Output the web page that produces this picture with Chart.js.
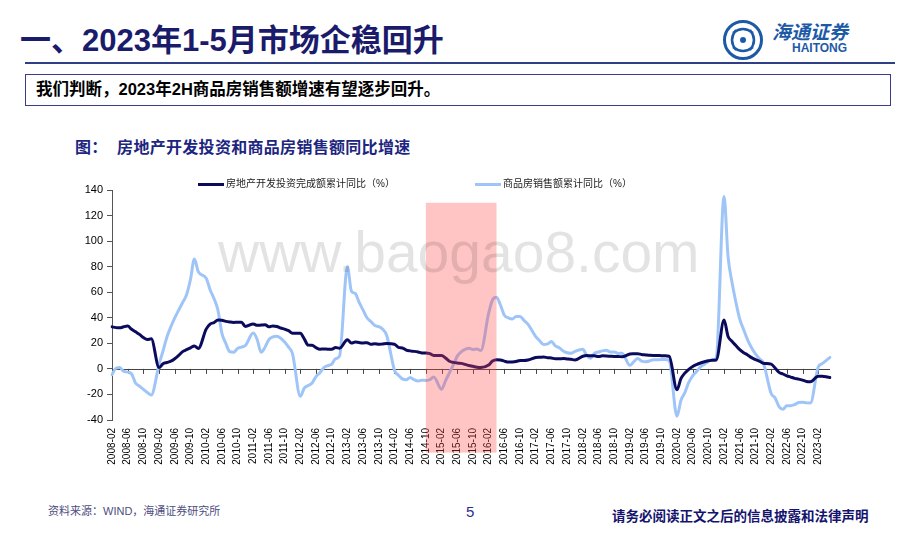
<!DOCTYPE html>
<html>
<head>
<meta charset="utf-8">
<script src="https://cdn.jsdelivr.net/npm/chart.js@4.4.0/dist/chart.umd.min.js"></script>
<style>
  body { margin: 0; width: 920px; height: 542px; background: #fff; position: relative; overflow: hidden;
         font-family: "Liberation Sans", Arial, "Noto Sans CJK SC", sans-serif; }
  .abs { position: absolute; white-space: nowrap; }
  #title { left: 20px; top: 22px; font-size: 31px; line-height: 38px; font-weight: 700; color: #1b1b6b; }
  #rule { left: 25px; top: 62px; width: 870px; height: 2px; background: #2e3f88; }
  #box { left: 25px; top: 74px; width: 864px; height: 30px; border: 1px solid #3b3b8a; }
  #boxText { left: 36px; top: 79px; font-size: 16.5px; line-height: 21px; font-weight: 700; color: #000; }
  #chartTitle { left: 75px; top: 138px; font-size: 16px; line-height: 20px; font-weight: 700; color: #1c2580; letter-spacing: 0.3px; }
  .legLine { position: absolute; height: 3px; }
  .legText { font-size: 10px; line-height: 12px; color: #222; }
  #watermark { left: 218px; top: 224px; font-size: 57px; line-height: 57px; color: rgba(0,0,0,0.11);
               font-family: "Liberation Sans", Arial, sans-serif; pointer-events: none; }
  #src { left: 48px; top: 504px; font-size: 11px; line-height: 14px; color: #4d4d80; }
  #page { left: 466px; top: 503px; font-size: 15px; line-height: 18px; color: #2d2d90; }
  #notice { left: 612px; top: 508px; font-size: 13.5px; line-height: 17px; font-weight: 700; color: #14146e; }
  #logoText { left: 772px; top: 22px; font-size: 19px; line-height: 22px; color: #1d5aa6; font-style: italic; font-weight: 700; }
  #logoEn { left: 792px; top: 41px; font-size: 12px; line-height: 14px; color: #1d5aa6; font-weight: 700; }
  #chartWrap { position: absolute; left: 60px; top: 175px; width: 790px; height: 300px; }
</style>
</head>
<body>
<div class="abs" id="title">一、2023年1-5月市场企稳回升</div>
<svg class="abs" style="left:722px;top:19px" width="42" height="42" viewBox="0 0 42 42">
  <circle cx="21" cy="21" r="18.5" fill="none" stroke="#1d5aa6" stroke-width="3"/>
  <path d="M11 14 Q21 6 31 14 M11 28 Q21 36 31 28 M14 11 Q6 21 14 31 M28 11 Q36 21 28 31" fill="none" stroke="#1d5aa6" stroke-width="2.5"/>
  <circle cx="21" cy="21" r="3" fill="#1d5aa6"/>
</svg>
<div class="abs" id="logoText">海通证券</div>
<div class="abs" id="logoEn">HAITONG</div>
<div class="abs" id="rule"></div>
<div class="abs" id="box"></div>
<div class="abs" id="boxText">我们判断，2023年2H商品房销售额增速有望逐步回升。</div>
<div class="abs" id="chartTitle">图：&nbsp;&nbsp;房地产开发投资和商品房销售额同比增速</div>

<div id="chartWrap"><canvas id="chart" width="790" height="300"></canvas></div>

<div class="legLine" style="left:198px;top:183px;width:26px;background:#0b0b5e"></div>
<div class="abs legText" style="left:226px;top:178px">房地产开发投资完成额累计同比（%）</div>
<div class="legLine" style="left:475px;top:183px;width:26px;background:#9fc5f8"></div>
<div class="abs legText" style="left:503px;top:178px">商品房销售额累计同比（%）</div>

<div class="abs" id="watermark">www.baogao8.com</div>

<div class="abs" id="src">资料来源：WIND，海通证券研究所</div>
<div class="abs" id="page">5</div>
<div class="abs" id="notice">请务必阅读正文之后的信息披露和法律声明</div>

<script>
// months 2008-02 .. 2023-05, January values are not published (null)
const startYear = 2008, startMonth = 2, endYear = 2023, endMonth = 5;
const months = [];
for (let y = startYear; y <= endYear; y++) {
  for (let m = (y === startYear ? startMonth : 1); m <= (y === endYear ? endMonth : 12); m++) {
    months.push(y + '-' + String(m).padStart(2, '0'));
  }
}

// 房地产开发投资完成额累计同比（%）
const investment = [
  32.9, 32.3, 32.1, 33.0, 33.5, 31.0, 29.0, 27.0, 24.5, 23.0, 23.5,        // 2008 Feb-Dec
  null, 1.0, 4.0, 5.0, 6.0, 8.0, 10.5, 13.5, 15.0, 16.5, 18.0, 16.0,       // 2009
  null, 31.1, 35.1, 36.2, 38.2, 38.1, 37.2, 36.7, 36.4, 36.5, 36.5, 33.2,  // 2010
  null, 35.2, 34.1, 34.3, 34.6, 32.9, 33.6, 33.2, 32.0, 31.1, 29.9, 27.9,  // 2011
  null, 27.8, 23.5, 18.6, 18.5, 16.6, 15.4, 15.6, 15.4, 15.4, 16.7, 16.2,  // 2012
  null, 22.8, 20.2, 21.1, 20.6, 20.3, 20.5, 19.3, 19.7, 19.2, 19.5, 19.8,  // 2013
  null, 19.3, 16.8, 16.4, 14.7, 14.1, 13.7, 13.2, 12.5, 12.4, 11.9, 10.5,  // 2014
  null, 10.4, 8.5, 6.0, 5.1, 4.6, 4.3, 3.5, 2.6, 2.0, 1.3, 1.0,            // 2015
  null, 3.0, 6.2, 7.2, 7.0, 6.1, 5.3, 5.4, 5.8, 6.6, 6.5, 6.9,             // 2016
  null, 8.9, 9.1, 9.3, 8.8, 8.5, 7.9, 7.9, 8.1, 7.8, 7.5, 7.0,             // 2017
  null, 9.9, 10.4, 10.3, 10.2, 9.7, 10.2, 10.1, 9.9, 9.7, 9.7, 9.5,        // 2018
  null, 11.6, 11.8, 11.9, 11.2, 10.9, 10.6, 10.5, 10.5, 10.3, 10.2, 9.9,   // 2019
  null, -16.3, -7.7, -3.3, -0.3, 1.9, 3.4, 4.6, 5.6, 6.3, 6.8, 7.0,        // 2020
  null, 38.3, 25.6, 21.6, 18.3, 15.0, 12.7, 10.9, 8.8, 7.2, 6.0, 4.4,      // 2021
  null, 3.7, 0.7, -2.7, -4.0, -5.4, -6.4, -7.4, -8.0, -8.8, -9.8, -10.0,   // 2022
  null, -5.7, -5.8, -6.2, -6.8                                             // 2023 Jan-May
];

// 商品房销售额累计同比（%）
const sales = [
  -4.5, 0.5, 1.0, -2.0, -2.5, -4.0, -11.0, -13.5, -16.0, -18.5, -20.5,    // 2008 Feb-Dec
  null, 3.6, 14.0, 25.0, 33.0, 40.0, 46.0, 52.0, 58.0, 70.0, 86.0, 76.0,   // 2009
  null, 71.0, 62.0, 55.0, 46.0, 28.0, 20.0, 13.5, 13.0, 16.0, 17.0, 18.3,  // 2010
  null, 28.0, 23.0, 13.0, 17.0, 23.0, 25.0, 25.5, 24.0, 21.0, 17.0, 12.0,  // 2011
  null, -21.5, -15.0, -13.0, -11.0, -6.0, -3.0, 1.0, 2.6, 3.7, 8.0, 10.0,  // 2012
  null, 80.0, 61.0, 59.0, 52.0, 46.0, 40.0, 37.0, 34.0, 33.0, 31.0, 26.3,  // 2013
  null, -1.0, -5.0, -7.8, -8.5, -6.7, -8.5, -9.5, -8.9, -9.0, -8.5, -6.3,  // 2014
  null, -16.0, -9.3, -3.1, 3.1, 10.0, 13.4, 15.3, 16.2, 15.2, 15.6, 14.4,  // 2015
  null, 43.6, 54.1, 56.0, 50.0, 42.0, 40.0, 39.0, 41.0, 41.0, 38.0, 35.0,  // 2016
  null, 25.3, 22.0, 19.0, 19.5, 21.5, 18.0, 16.5, 14.0, 12.6, 12.2, 13.7,  // 2017
  null, 15.3, 10.4, 8.4, 12.2, 13.2, 14.1, 14.5, 13.3, 13.3, 12.1, 12.2,   // 2018
  null, 2.8, 5.6, 8.1, 6.1, 5.6, 6.2, 7.1, 7.1, 7.3, 7.3, 6.5,             // 2019
  null, -37.0, -24.7, -18.6, -10.6, -5.4, -2.1, 1.6, 3.7, 5.8, 7.2, 8.7,   // 2020
  null, 135.0, 88.5, 68.2, 52.4, 38.9, 30.7, 22.7, 16.6, 11.8, 8.0, 4.8,   // 2021
  null, -19.3, -22.7, -29.5, -31.5, -28.9, -28.8, -27.9, -26.3, -26.1, -26.6, -26.7, // 2022
  null, 1.5, 4.1, 6.5, 9.0                                                 // 2023 Jan-May
];

const yTicks = { min: -40, max: 140, step: 20 };
const shade = { from: '2014-10', to: '2016-04', top: 130, bottom: -65.5 };
const tickEvery = 4;

const frame = {
  id: 'frame',
  beforeDatasetsDraw(chart) {
    const { ctx, chartArea, scales } = chart;
    const y0 = scales.y.getPixelForValue(0);
    ctx.save();
    ctx.strokeStyle = '#444';
    ctx.lineWidth = 1;
    ctx.beginPath();
    ctx.moveTo(chartArea.left, Math.round(y0) + 0.5);
    ctx.lineTo(chartArea.right, Math.round(y0) + 0.5);
    for (let i = 0; i < months.length; i += tickEvery) {
      const x = Math.round(scales.x.getPixelForValue(i)) + 0.5;
      ctx.moveTo(x, y0);
      ctx.lineTo(x, y0 + 5);
    }
    ctx.stroke();
    ctx.restore();
  },
  afterDatasetsDraw(chart) {
    const { ctx, scales } = chart;
    const x1 = scales.x.getPixelForValue(months.indexOf(shade.from));
    const x2 = scales.x.getPixelForValue(months.indexOf(shade.to));
    const yt = scales.y.getPixelForValue(shade.top);
    const yb = scales.y.getPixelForValue(shade.bottom);
    ctx.save();
    ctx.fillStyle = 'rgba(255,70,70,0.32)';
    ctx.fillRect(x1, yt, x2 - x1, yb - yt);
    ctx.restore();
  }
};

const ctx = document.getElementById('chart').getContext('2d');
const chart = new Chart(ctx, {
  type: 'line',
  data: {
    labels: months,
    datasets: [
      { label: '房地产开发投资完成额累计同比（%）', data: investment, borderColor: '#0b0b5e', borderWidth: 3 },
      { label: '商品房销售额累计同比（%）', data: sales, borderColor: '#9fc5f8', borderWidth: 3 }
    ]
  },
  options: {
    responsive: false,
    animation: false,
    devicePixelRatio: 1,
    spanGaps: true,
    elements: {
      point: { radius: 0 },
      line: { cubicInterpolationMode: 'monotone', borderCapStyle: 'round', borderJoinStyle: 'round' }
    },
    layout: { padding: { top: 15, right: 20, left: 0, bottom: 0 } },
    plugins: { legend: { display: false }, tooltip: { enabled: false } },
    scales: {
      x: {
        grid: { display: false, drawTicks: false },
        border: { display: false },
        afterFit(scale) { scale.height = 55; },
        ticks: {
          autoSkip: false, maxRotation: 90, minRotation: 90, padding: 8,
          color: '#000', font: { size: 10, family: '"Liberation Sans", Arial' },
          callback(value, index) { return index % tickEvery === 0 ? months[index] : ''; }
        }
      },
      y: {
        min: yTicks.min, max: yTicks.max,
        afterFit(scale) { scale.width = 52; },
        grid: { drawOnChartArea: false, drawTicks: true, tickLength: 5, color: '#555' },
        border: { display: true, color: '#555' },
        ticks: { stepSize: yTicks.step, padding: 4, color: '#000', font: { size: 11, family: '"Liberation Sans", Arial' } }
      }
    }
  },
  plugins: [frame]
});
</script>
</body>
</html>
